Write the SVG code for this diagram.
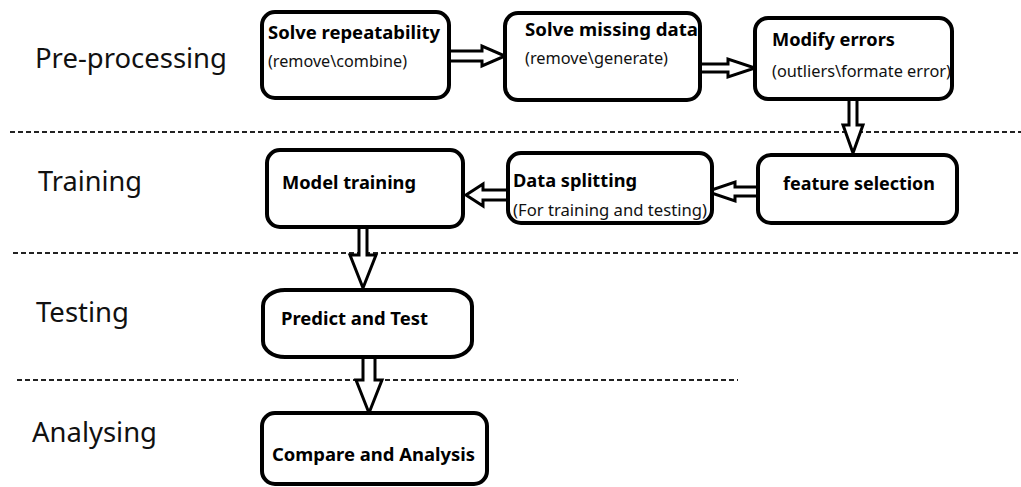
<svg xmlns="http://www.w3.org/2000/svg" width="1021" height="487" viewBox="0 0 1021 487">
<style>
.box{fill:#fff;stroke:#000;stroke-width:4}
.arr{fill:#fff;stroke:#000;stroke-width:3;stroke-linejoin:miter}
.dash{stroke:#222;stroke-width:2;stroke-dasharray:5 3;fill:none}
.stage{font-family:"Noto Sans","Open Sans",sans-serif;font-size:28px;fill:#111}
.t{font-family:"Noto Sans","Open Sans",sans-serif;font-size:18px;font-weight:bold;fill:#000}
.s{font-family:"Noto Sans","Open Sans",sans-serif;font-size:16px;fill:#111}
</style>
<rect width="1021" height="487" fill="#fff"/>
<g id="dividers">
<line class="dash" x1="10" y1="132" x2="1021" y2="132"/>
<line class="dash" x1="13" y1="253" x2="1021" y2="253"/>
<line class="dash" x1="17" y1="380" x2="738" y2="380"/>
</g>
<g id="stages">
<text class="stage" x="35" y="68" textLength="192" lengthAdjust="spacingAndGlyphs">Pre-processing</text>
<text class="stage" x="38" y="191" textLength="104" lengthAdjust="spacingAndGlyphs">Training</text>
<text class="stage" x="36" y="322" textLength="93" lengthAdjust="spacingAndGlyphs">Testing</text>
<text class="stage" x="32" y="442" textLength="125" lengthAdjust="spacingAndGlyphs">Analysing</text>
</g>
<g id="connectors">
<polygon class="arr" points="449,51 482,51 482,46 505,56 482,66 482,61 449,61"/>
<polygon class="arr" points="700,64 728,64 728,59 755,68 728,77 728,72 700,72"/>
<polygon class="arr" points="849,99 857,99 857,125 863,125 853,153 843,125 849,125"/>
<polygon class="arr" points="758,187 735,187 735,182 707,191.5 735,201 735,196 758,196"/>
<polygon class="arr" points="508,190 483,190 483,184 466,195 483,206 483,200 508,200"/>
<polygon class="arr" points="359,227 367,227 367,255 376,255 363,288 350,255 359,255"/>
<polygon class="arr" points="363,357 375,357 375,380 382,380 369,413 356,380 363,380"/>
</g>
<g id="n1">
<rect class="box" x="262" y="12" width="187" height="86" rx="13"/>
<text class="t" x="268" y="39" textLength="172" lengthAdjust="spacingAndGlyphs">Solve repeatability</text>
<text class="s" x="268" y="67" textLength="139" lengthAdjust="spacingAndGlyphs">(remove\combine)</text>
</g>
<g id="n2">
<rect class="box" x="505" y="13" width="195" height="87" rx="13"/>
<text class="t" x="525" y="36" textLength="173" lengthAdjust="spacingAndGlyphs">Solve missing data</text>
<text class="s" x="525" y="64" textLength="143" lengthAdjust="spacingAndGlyphs">(remove\generate)</text>
</g>
<g id="n3">
<rect class="box" x="755" y="18" width="197" height="81" rx="13"/>
<text class="t" x="772" y="46" textLength="123" lengthAdjust="spacingAndGlyphs">Modify errors</text>
<text class="s" x="772" y="77" textLength="179" lengthAdjust="spacingAndGlyphs">(outliers\formate error)</text>
</g>
<g id="n4">
<rect class="box" x="758" y="155" width="199" height="68" rx="13"/>
<text class="t" x="783" y="190" textLength="152" lengthAdjust="spacingAndGlyphs">feature selection</text>
</g>
<g id="n5">
<rect class="box" x="508" y="153" width="204" height="70" rx="13"/>
<text class="t" x="513" y="187" textLength="124" lengthAdjust="spacingAndGlyphs">Data splitting</text>
<text class="s" x="513" y="216" textLength="194" lengthAdjust="spacingAndGlyphs">(For training and testing)</text>
</g>
<g id="n6">
<rect class="box" x="267" y="150" width="196" height="77" rx="13"/>
<text class="t" x="282" y="189" textLength="134" lengthAdjust="spacingAndGlyphs">Model training</text>
</g>
<g id="n7">
<rect class="box" x="263" y="290" width="209" height="67" rx="22" ry="16"/>
<text class="t" x="281" y="325" textLength="147" lengthAdjust="spacingAndGlyphs">Predict and Test</text>
</g>
<g id="n8">
<rect class="box" x="262" y="413" width="225" height="71" rx="13"/>
<text class="t" x="272" y="461" textLength="203" lengthAdjust="spacingAndGlyphs">Compare and Analysis</text>
</g>
</svg>
